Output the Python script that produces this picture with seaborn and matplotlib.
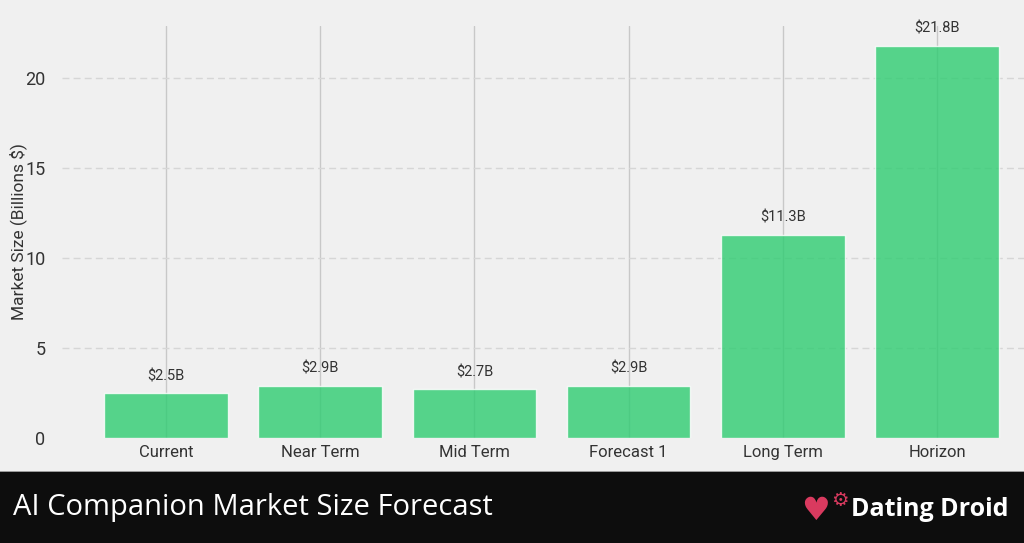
import matplotlib
matplotlib.use("Agg")
import matplotlib.pyplot as plt
import matplotlib.patches as mpatches
import seaborn as sns
import pandas as pd

categories = ["Current", "Near Term", "Mid Term", "Forecast 1", "Long Term", "Horizon"]
market_size = [2.5, 2.9, 2.7, 2.9, 11.3, 21.8]
value_labels = ["$2.5B", "$2.9B", "$2.7B", "$2.9B", "$11.3B", "$21.8B"]
y_ticks = [0, 5, 10, 15, 20]

BG = "#f0f0f0"
W, H = 1024, 543

sns.set_theme(style="white")
plt.rcParams["font.family"] = ["Roboto", "DejaVu Sans"]

fig = plt.figure(figsize=(W / 100, H / 100), dpi=100)
fig.patch.set_facecolor(BG)

# axes placed by pixels: zero line at y~438, top at ~26, left edge at x=62
ax = fig.add_axes([62 / W, 1 - 438 / H, (1041 - 62) / W, (438 - 26) / H])
ax.set_facecolor(BG)

df = pd.DataFrame({"period": categories, "size": market_size})
sns.barplot(data=df, x="period", y="size", color="#2ecc71", alpha=0.8,
            width=0.8, saturation=1, ax=ax)

ax.set_axisbelow(True)
ax.grid(axis="x", color="#c8c8c8", linewidth=1, linestyle="-")
ax.grid(axis="y", color="#d6d6d6", linewidth=1, linestyle=(0, (5, 3)))

for i, v in enumerate(market_size):
    ax.text(i, v + 0.55, value_labels[i], ha="center", va="bottom",
            fontsize=10.5, color="#333333")

ax.set_xlim(-0.674, 5.674)
ax.set_ylim(0, 21.8 * 1.05)
ax.set_yticks(y_ticks)
ax.yaxis.get_gridlines()[0].set_visible(False)
ax.tick_params(axis="both", length=0, colors="#333333")
ax.tick_params(axis="x", pad=5, labelsize=12)
ax.tick_params(axis="y", pad=12, labelsize=13)
ax.set_xlabel("")
ax.set_ylabel("Market Size (Billions $)", fontsize=12.5, color="#333333")
ax.yaxis.set_label_coords(-0.036, 0.5)
for s in ax.spines.values():
    s.set_visible(False)

# bottom banner
band_h = 71 / H
fig.patches.append(mpatches.Rectangle((0, 0), 1, band_h, transform=fig.transFigure,
                                      facecolor="#0d0d0d", edgecolor="none", zorder=5))
fig.patches.append(mpatches.Rectangle((0, band_h), 1, 1.5 / H, transform=fig.transFigure,
                                      facecolor="#9a9a9a", edgecolor="none", zorder=5))
fig.text(13 / W, 36 / H, "AI Companion Market Size Forecast", color="white",
         fontsize=21, va="center", ha="left", family=["Open Sans", "DejaVu Sans"], zorder=6)
fig.text(815 / W, 31 / H, "\u2665", color="#d93a5f", fontsize=23, va="center",
         ha="center", family=["DejaVu Sans"], zorder=6)
fig.text(840 / W, 43 / H, "\u2699", color="#d93a5f", fontsize=14, va="center",
         ha="center", family=["DejaVu Sans"], zorder=6)
fig.text(851 / W, 34 / H, "Dating Droid", color="white", fontsize=18, fontweight="bold",
         va="center", ha="left", family=["Open Sans", "DejaVu Sans"], zorder=6)

fig.savefig("out.png", dpi=100, facecolor=BG)
